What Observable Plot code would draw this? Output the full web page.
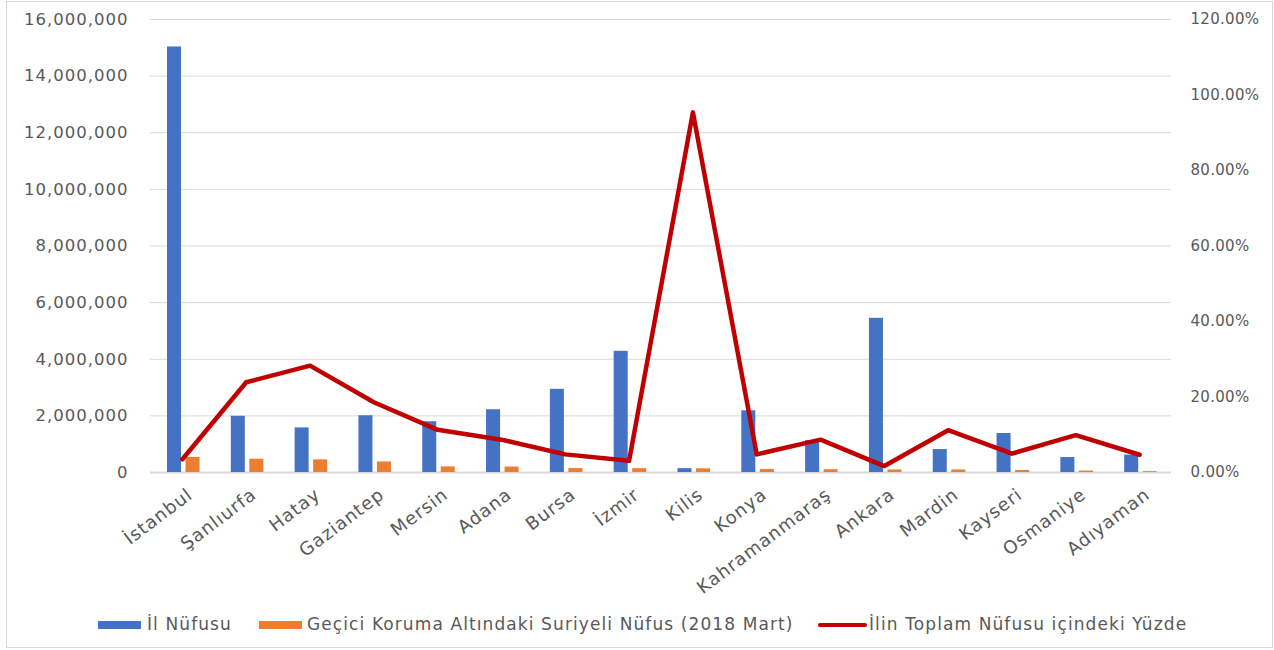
<!DOCTYPE html>
<html>
<head>
<meta charset="utf-8">
<script src="https://cdn.jsdelivr.net/npm/d3@7"></script>
<script src="https://cdn.jsdelivr.net/npm/@observablehq/plot@0.6"></script>
<style>
  html, body { margin: 0; padding: 0; background: #fff; }
  #wrap { position: relative; width: 1274px; height: 650px; overflow: hidden; font-family: "DejaVu Sans", sans-serif; }
  #frame { position: absolute; left: 6px; top: 1px; width: 1265px; height: 645px; border: 1px solid #d9d9d9; pointer-events: none; }
  #chart { position: absolute; left: 0; top: 0; }
  .lg { position: absolute; }
  .lgtext { position: absolute; top: 615px; font-size: 17px; line-height: 19px; color: #595959; letter-spacing: 1.1px; white-space: nowrap; }
</style>
</head>
<body>
<div id="wrap">
  <div id="chart"></div>
  <div id="legend"></div>
  <div id="frame"></div>
</div>
<script>
// Data
const cities = ["İstanbul","Şanlıurfa","Hatay","Gaziantep","Mersin","Adana","Bursa","İzmir","Kilis","Konya","Kahramanmaraş","Ankara","Mardin","Kayseri","Osmaniye","Adıyaman"];
const ilNufusu = [15030000,1985000,1575000,2005000,1794000,2216000,2937000,4280000,136000,2180000,1128000,5445000,810000,1377000,528000,615000];
const suriyeli = [530000,470000,446000,372000,198000,192000,140000,135000,130000,105000,98000,90000,90000,72000,52000,29000];
const yuzde = [3.5,23.9,28.3,18.6,11.3,8.7,4.8,3.1,95.4,4.8,8.7,1.7,11.2,5.0,9.9,4.7];
const leftTicks = [0,2000000,4000000,6000000,8000000,10000000,12000000,14000000,16000000];
const pctTicks = [0,20,40,60,80,100,120];
const seriesNames = ["İl Nüfusu","Geçici Koruma Altındaki Suriyeli Nüfus (2018 Mart)","İlin Toplam Nüfusu içindeki Yüzde"];
const seriesColors = ["#4472c4","#ed7d31","#c00000"];

const leftMax = 16000000, rightMax = 120;
const K = leftMax / rightMax; // maps percent onto left scale

const rows = cities.map((c, i) => ({city: c, il: ilNufusu[i], sur: suriyeli[i], pct: yuzde[i]}));

const chart = Plot.plot({
  width: 1274,
  height: 600,
  marginLeft: 150,
  marginRight: 103,
  marginTop: 19,
  marginBottom: 128,
  style: {fontFamily: "DejaVu Sans", color: "#595959", background: "transparent", overflow: "visible"},
  x: {type: "band", domain: cities, padding: 0, round: false},
  y: {domain: [0, leftMax]},
  marks: [
    Plot.gridY(leftTicks, {stroke: "#d9d9d9", strokeOpacity: 1, strokeWidth: 1}),
    Plot.ruleY([0], {stroke: "#d9d9d9", strokeWidth: 2}),
    Plot.barY(rows, {x: "city", y: "il", fill: seriesColors[0], insetLeft: 17, insetRight: 32.8}),
    Plot.barY(rows, {x: "city", y: "sur", fill: seriesColors[1], insetLeft: 35.5, insetRight: 14.3}),
    Plot.line(rows, {x: "city", y: d => d.pct * K, stroke: seriesColors[2], strokeWidth: 4.5}),
    Plot.axisY(leftTicks, {anchor: "left", tickSize: 0, tickPadding: 22, tickFormat: d3.format(","), fontSize: 16.5, label: null}),
    Plot.axisY(pctTicks.map(p => p * K), {anchor: "right", tickSize: 0, tickPadding: 19, tickFormat: d => (d / K).toFixed(2) + "%", fontSize: 15, label: null}),
    Plot.axisX({tickRotate: -37, tickSize: 0, tickPadding: 20, dx: 8, fontSize: 18, label: null})
  ]
});
document.getElementById("chart").appendChild(chart);

// letter spacing tweaks per axis
const yGroups = chart.querySelectorAll('g[aria-label="y-axis tick label"]');
if (yGroups[0]) yGroups[0].style.letterSpacing = "1px";
if (yGroups[1]) yGroups[1].style.letterSpacing = "0.3px";
const xGroup = chart.querySelector('g[aria-label="x-axis tick label"]');
if (xGroup) xGroup.style.letterSpacing = "1px";

// Legend
const legend = document.getElementById("legend");
function add(html) { legend.insertAdjacentHTML("beforeend", html); }
add(`<div class="lg" style="left:98px;top:621px;width:43px;height:8px;background:${seriesColors[0]}"></div>`);
add(`<div class="lgtext" style="left:147px">${seriesNames[0]}</div>`);
add(`<div class="lg" style="left:259px;top:621px;width:43px;height:8px;background:${seriesColors[1]}"></div>`);
add(`<div class="lgtext" style="left:307px">${seriesNames[1]}</div>`);
add(`<div class="lg" style="left:818px;top:622.5px;width:49px;height:4px;border-radius:2px;background:${seriesColors[2]}"></div>`);
add(`<div class="lgtext" style="left:869px">${seriesNames[2]}</div>`);
</script>
</body>
</html>
